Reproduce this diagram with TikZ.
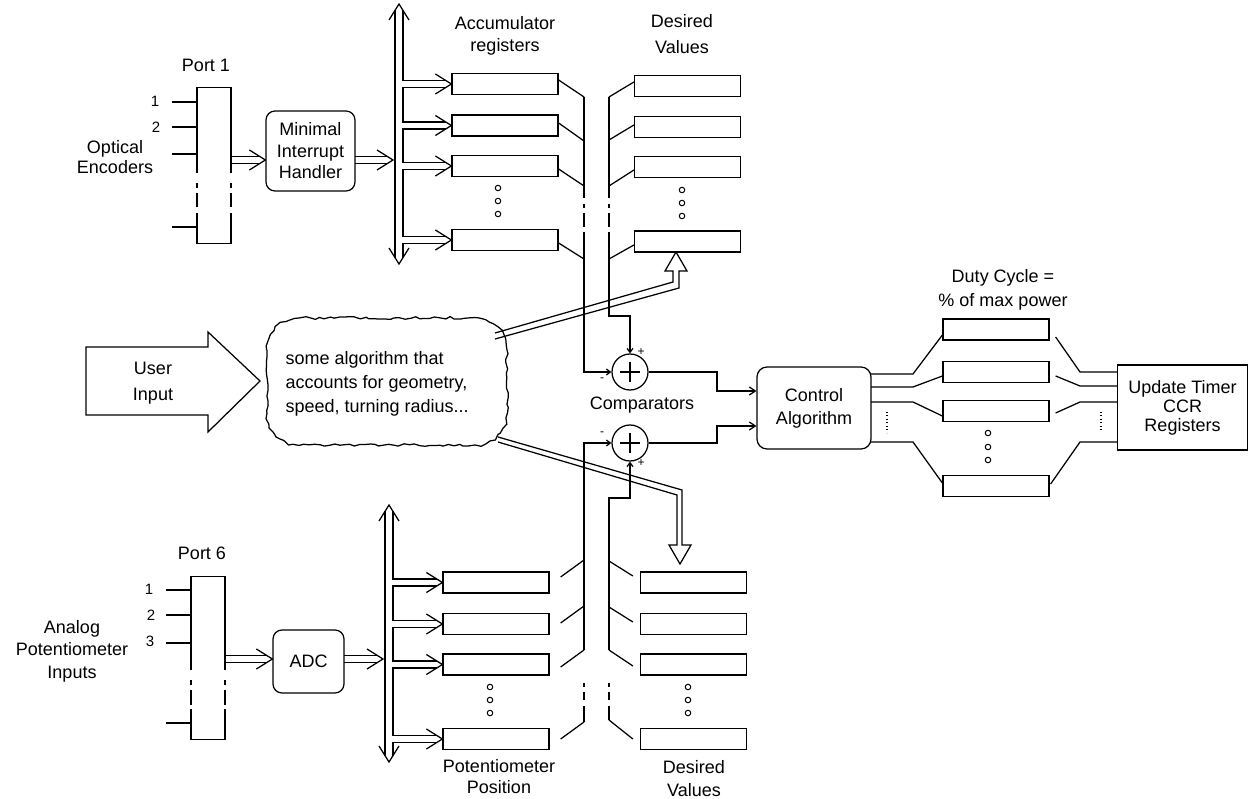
\documentclass[tikz,border=0pt]{standalone}
\usepackage{fontspec}
\setmainfont{Liberation Sans}
\usetikzlibrary{calc,arrows.meta,decorations.pathmorphing}
\newcommand\hpipe[2]{%
  \draw ($(#1)+(0,-3.5)$) -- ($(#2)+(-5.6,-3.5)$);
  \draw ($(#1)+(0,3.5)$) -- ($(#2)+(-5.6,3.5)$);
  \draw ($(#2)+(-16,-10)$) -- (#2) -- ($(#2)+(-16,10)$);}
\newcommand\myfs[2]{\fontsize{#1}{#2}\selectfont}
\begin{document}
\begin{tikzpicture}[x=1pt,y=-1pt,line width=1.25pt,
  every node/.style={inner sep=0pt,font=\myfs{18}{22}},
  reg/.style={draw,minimum width=106pt,minimum height=21pt},
  rbox/.style={draw,rounded corners=9pt,align=center},
  txt/.style={align=center},
  num/.style={font=\myfs{15}{15}},
  sgn/.style={font=\myfs{12}{12}},
  dotm/.style={draw,circle,minimum size=5.5pt,line width=1pt},
  barb/.style={-{Straight Barb[length=6pt,width=8pt]}},
  sbarb/.style={-{Straight Barb[length=4pt,width=6pt]}},
  brk/.style={dash pattern=on 1pt off 2.5pt}]
\fill[white] (0,0) rectangle (1248,799);
\useasboundingbox (0,0) rectangle (1248,799);

% ================= Port 1 / optical encoders
\node (port1lbl) at (206,65) {Port 1};
\node[minimum width=34pt,minimum height=155pt] (port1) at (214,165.5) {};
\draw (port1.north west) -- (port1.north east) (port1.south west) -- (port1.south east);
\foreach \xx in {197,231}{
  \draw (\xx,88) -- (\xx,173) (\xx,183) -- (\xx,188) (\xx,193) -- (\xx,207) (\xx,213) -- (\xx,243);}
\foreach \yy in {102,127,154,227} \draw (172,\yy) -- (197,\yy);
\node[num] (in1) at (155,101) {1};
\node[num] (in2) at (156,127) {2};
\node[txt,font=\myfs{18}{20.5}] (optenc) at (115,157) {Optical\\Encoders};
\node[rbox,minimum width=89pt,minimum height=80pt,font=\myfs{18}{21.5}] (mih) at (310.5,151) {Minimal\\Interrupt\\Handler};
\coordinate (a1) at (231,160);
\hpipe{a1}{a1 -| mih.west}
\coordinate (a2) at (355,160);
\coordinate (busin) at (393,160);
\hpipe{a2}{busin}

% ================= top bus
\coordinate (busT) at (399,4);
\coordinate (busB) at (399,264);
\coordinate (busR) at (403,0);
\draw (395,10.4) -- (395,257.6);
\draw ($(busT)+(-10,16)$) -- (busT) -- ($(busT)+(10,16)$);
\draw ($(busB)+(-10,-16)$) -- (busB) -- ($(busB)+(10,-16)$);
\foreach \n/\yy in {1/84,2/125.5,3/166,4/240} \node[reg] (r\n) at (505,\yy) {};
\draw (403,10.4) |- ($(r1.west)+(-5.6,-3.5)$);
\foreach \i/\j in {1/2,2/3,3/4}
  \draw ($(r\i.west)+(-5.6,3.5)$) -| ($(busR |- r\j.west)+(0,-3.5)$) -- ($(r\j.west)+(-5.6,-3.5)$);
\draw ($(r4.west)+(-5.6,3.5)$) -| (403,257.6);
\foreach \i in {1,...,4} \draw ($(r\i.west)+(-16,-10)$) -- (r\i.west) -- ($(r\i.west)+(-16,10)$);
\node[txt,font=\myfs{18}{21.5}] (acclbl) at (505,36) {Accumulator\\registers};
\node[txt,font=\myfs{18}{25.5}] (deslbl1) at (682,34) {Desired\\Values};
\foreach \n/\yy in {1/86,2/127,3/167,4/241.5} \node[reg] (d\n) at (687.5,\yy) {};
\foreach \k/\yy in {1/188,2/201,3/214}{
  \node[dotm] (da\k) at (498,\yy) {};
  \node[dotm] (db\k) at (682,\yy+2) {};}

% collectors (top)
\draw ($(r1.east)+(0,-4)$) -- (584,97);
\draw ($(r2.east)+(0,-2.5)$) -- (584,141);
\draw ($(r3.east)+(0,3)$) -- (584,186);
\draw ($(r4.east)+(0,3)$) -- (584,259);
\draw ($(d1.west)+(0,-4)$) -- (609,97);
\draw ($(d2.west)+(0,-2)$) -- (609,140);
\draw ($(d3.west)+(0,3)$) -- (609,186);
\draw ($(d4.west)+(0,3.5)$) -- (609,259);
\foreach \xx in {584,609} \draw (\xx,97) -- (\xx,198) (\xx,204) -- (\xx,208) (\xx,213) -- (\xx,227);

% ================= comparators
\node[draw,circle,minimum size=36pt] (c1) at (630,372) {};
\node[draw,circle,minimum size=36pt] (c2) at (630,443) {};
\foreach \c in {c1,c2} \draw ($(\c)+(-10,0)$) -- ($(\c)+(10,0)$) ($(\c)+(0,-10)$) -- ($(\c)+(0,10)$);
\draw[sbarb] (584,232) |- (c1.west);
\draw[sbarb] (609,232) |- (630,316) -- (c1.north);
\draw[sbarb] (584,650) |- (c2.west);
\draw[sbarb] (609,650) |- (630,498) -- (c2.south);
\node[sgn] (s1p) at (641,352) {+};
\node[sgn] (s1m) at (602,380) {-};
\node[sgn] (s2m) at (602,434) {-};
\node[sgn] (s2p) at (641,463) {+};
\node (cmplbl) at (642,405) {Comparators};

% ================= control algorithm
\node[rbox,rounded corners=10pt,minimum width=114pt,minimum height=82pt,font=\myfs{18}{23}] (ca) at (814,408) {Control\\Algorithm};
\coordinate (k1) at (717,391);
\coordinate (k2) at (717,426);
\draw[barb] (c1.east) -| (k1) -- (k1 -| ca.west);
\draw[barb] (c2.east) -| (k2) -- (k2 -| ca.west);

% ================= duty cycle registers
\node[txt,font=\myfs{18}{24}] (dutylbl) at (1003,290) {Duty Cycle =\\\% of max power};
\foreach \n/\yy in {1/329.5,2/372,3/411,4/486} \node[reg] (u\n) at (996,\yy) {};
\foreach \k/\yy in {1/433,2/447,3/460} \node[dotm] (dc\k) at (988,\yy) {};
\draw (871,374) -- (913,374) -- ($(u1.west)+(0,5.5)$);
\draw (871,387) -- (913,387) -- ($(u2.west)+(0,4)$);
\draw (871,402) -- (913,402) -- ($(u3.west)+(0,5)$);
\draw (871,442) -- (913,442) -- ($(u4.west)+(0,-3)$);
\draw[brk] (887,412) -- (887,433);
\node[draw,minimum width=130pt,minimum height=85pt,align=center,font=\myfs{18}{19}] (ut) at (1182.5,407.5) {Update Timer\\CCR\\Registers};
\draw ($(u1.east)+(6,7.5)$) -- (1080,372) -- (1117.5,372);
\draw ($(u2.east)+(6,4)$) -- (1080,386) -- (1117.5,386);
\draw ($(u3.east)+(6,2)$) -- (1080,402) -- (1117.5,402);
\draw ($(u4.east)+(1,-2)$) -- (1080,442) -- (1117.5,442);
\draw[brk] (1101,412) -- (1101,432);

% ================= user input and cloud
\draw (86,347) -- (208,347) -- (208,332) -- (260,381) -- (208,432) -- (208,415) -- (86,415) -- cycle;
\node[txt,font=\myfs{18}{26}] (uilbl) at (153,383) {User\\Input};
\pgfmathsetseed{11}
\draw[decorate,decoration={random steps,segment length=5pt,amplitude=1.4pt}]
  {[rounded corners=32pt] (267,318) rectangle (507,445)};
\node[anchor=west,align=left,font=\myfs{18}{24}] (cloudtxt) at (285,383.5) {some algorithm that\\accounts for geometry,\\speed, turning radius...};
\draw (495,333) -- (673,282) -- (673,271) -- (665,271) -- (676,252) -- (687,271) -- (679,271) -- (679,288) -- (495,339);
\draw (498,437) -- (682,490) -- (682,545) -- (691,545) -- (680,564) -- (669,545) -- (677,545) -- (677,495) -- (498,442);

% ================= Port 6 / analog inputs
\node (port6lbl) at (202,553) {Port 6};
\node[minimum width=34pt,minimum height=162pt] (port6) at (208,658) {};
\draw (port6.north west) -- (port6.north east) (port6.south west) -- (port6.south east);
\foreach \xx in {191,225}{
  \draw (\xx,577) -- (\xx,670) (\xx,680) -- (\xx,685) (\xx,690) -- (\xx,705) (\xx,709) -- (\xx,739);}
\foreach \yy in {590,615,643,723} \draw (166,\yy) -- (191,\yy);
\node[num] (j1) at (149,589) {1};
\node[num] (j2) at (151,615) {2};
\node[num] (j3) at (150,641) {3};
\node[txt,font=\myfs{18}{22.5}] (apin) at (72,651) {Analog\\Potentiometer\\Inputs};
\node[rbox,minimum width=71pt,minimum height=63pt] (adc) at (308.5,661.5) {ADC};
\coordinate (b1) at (225,659);
\hpipe{b1}{b1 -| adc.west}
\coordinate (b2) at (344,659);
\coordinate (busin2) at (383,659);
\hpipe{b2}{busin2}

% ================= bottom bus
\coordinate (bus2T) at (389,505);
\coordinate (bus2B) at (389,762);
\coordinate (bus2R) at (393,0);
\draw (385,511.4) -- (385,755.6);
\draw ($(bus2T)+(-10,16)$) -- (bus2T) -- ($(bus2T)+(10,16)$);
\draw ($(bus2B)+(-10,-16)$) -- (bus2B) -- ($(bus2B)+(10,-16)$);
\foreach \n/\yy in {1/582.5,2/624,3/664.5,4/739} \node[reg] (p\n) at (496,\yy) {};
\draw (393,511.4) |- ($(p1.west)+(-5.6,-3.5)$);
\foreach \i/\j in {1/2,2/3,3/4}
  \draw ($(p\i.west)+(-5.6,3.5)$) -| ($(bus2R |- p\j.west)+(0,-3.5)$) -- ($(p\j.west)+(-5.6,-3.5)$);
\draw ($(p4.west)+(-5.6,3.5)$) -| (393,755.6);
\foreach \i in {1,...,4} \draw ($(p\i.west)+(-16,-10)$) -- (p\i.west) -- ($(p\i.west)+(-16,10)$);
\foreach \n/\yy in {1/582.5,2/624,3/664.5,4/739} \node[reg] (e\n) at (693.5,\yy) {};
\foreach \k/\yy in {1/687,2/700,3/713}{
  \node[dotm] (dp\k) at (490,\yy) {};
  \node[dotm] (de\k) at (688,\yy) {};}
\node[txt,font=\myfs{18}{21}] (potlbl) at (499,777) {Potentiometer\\Position};
\node[txt,font=\myfs{18}{23}] (deslbl2) at (694,778.5) {Desired\\Values};

% collectors (bottom)
\draw ($(p1.east)+(11,-5.5)$) -- (584,560);
\draw ($(p2.east)+(11,-1)$) -- (584,606);
\draw ($(p3.east)+(11,2.5)$) -- (584,650);
\draw ($(p4.east)+(11,0)$) -- (584,722);
\draw ($(e1.west)+(-7,-6.5)$) -- (609,561);
\draw ($(e2.west)+(-7,-2)$) -- (609,607);
\draw ($(e3.west)+(-7,1.5)$) -- (609,650);
\draw ($(e4.west)+(-7,0)$) -- (609,720);
\draw (584,683) -- (584,687) (584,692) -- (584,700) (584,706) -- (584,722);
\draw (609,683) -- (609,687) (609,692) -- (609,700) (609,706) -- (609,720);
\end{tikzpicture}
\end{document}
